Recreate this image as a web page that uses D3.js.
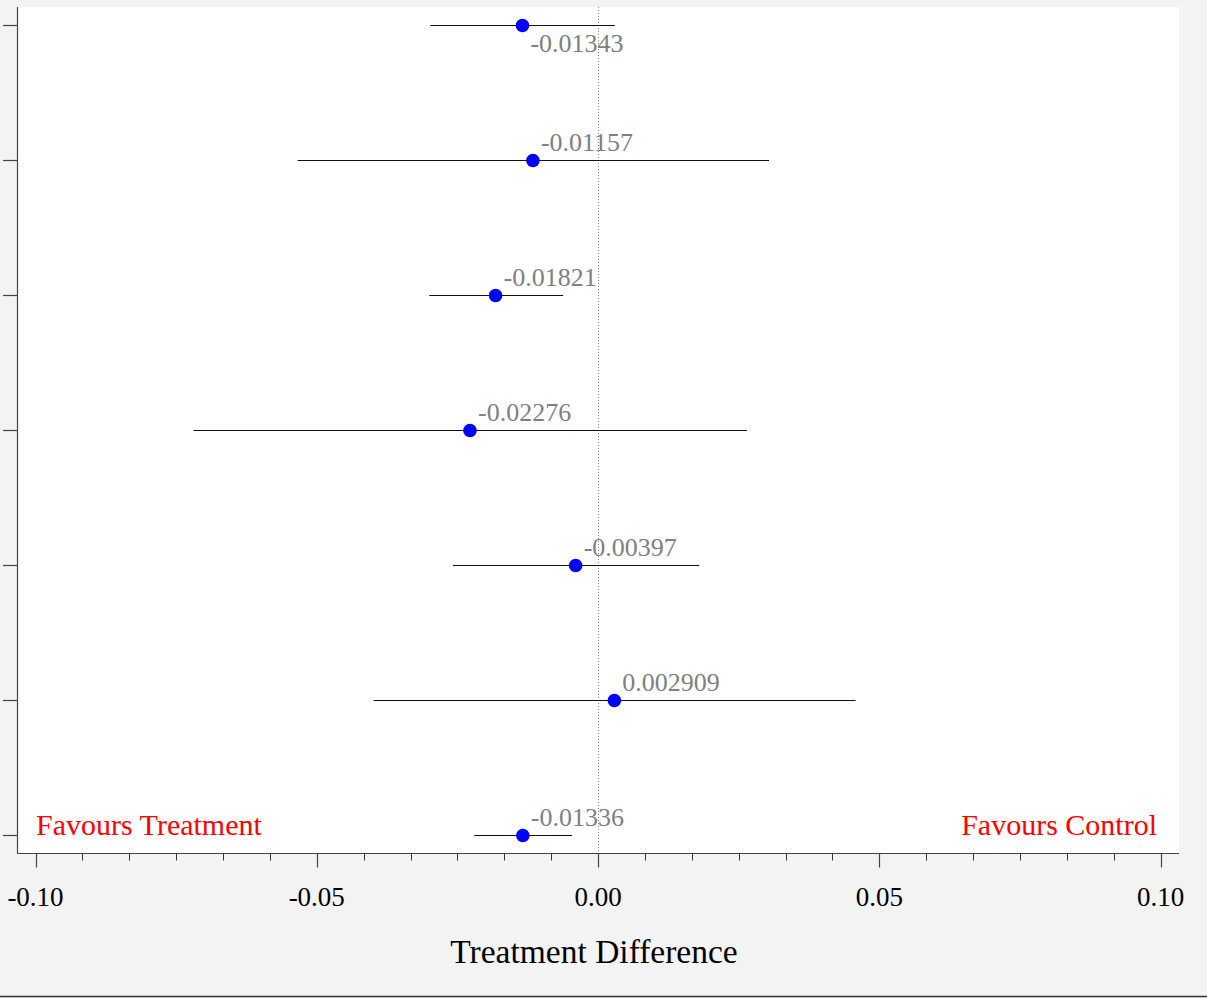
<!DOCTYPE html>
<html>
<head>
<meta charset="utf-8">
<script src="https://cdn.jsdelivr.net/npm/d3@7"></script>
<style>
  html, body { margin: 0; padding: 0; background: #f3f3f3; }
  svg { display: block; }
</style>
</head>
<body>
<script>
// ---- data ----
const rows = ["1", "2", "3", "4", "5", "6", "7"];
const estimates = [-0.01343, -0.01157, -0.01821, -0.02276, -0.00397, 0.002909, -0.01336];
const lowerCI = [-0.0298, -0.0534, -0.0300, -0.0719, -0.0258, -0.0399, -0.0220];
const upperCI = [0.0030, 0.0304, -0.0062, 0.0265, 0.0180, 0.0458, -0.0046];
const xTicks = [-0.10, -0.05, 0.00, 0.05, 0.10];
const xTickLabels = ["-0.10", "-0.05", "0.00", "0.05", "0.10"];
const xTitle = "Treatment Difference";
const leftNote = "Favours Treatment";
const rightNote = "Favours Control";

const data = rows.map((r, i) => ({ row: r, est: estimates[i], lo: lowerCI[i], hi: upperCI[i] }));

// ---- layout ----
const W = 1207, H = 998;
const plot = { left: 17, right: 1179, top: 7, bottom: 853 };
const serif = "'Liberation Serif', 'Times New Roman', serif";

const svg = d3.select("body").append("svg").attr("width", W).attr("height", H);

svg.append("rect").attr("width", W).attr("height", H).attr("fill", "#f3f3f3");
svg.append("rect")
  .attr("x", plot.left).attr("y", plot.top)
  .attr("width", plot.right - plot.left).attr("height", plot.bottom - plot.top)
  .attr("fill", "#ffffff");

// frame bottom line
svg.append("line").attr("x1", 0).attr("x2", W).attr("y1", 996.5).attr("y2", 996.5)
  .attr("stroke", "#333").attr("stroke-width", 1.5);

const x = d3.scaleLinear().domain([-0.10, 0.10]).range([35.5, 1160.5]);
const y = d3.scalePoint().domain(rows).range([plot.top, plot.bottom]).padding(0.1333);
const crisp = v => Math.round(v) + 0.5;

// reference line at 0
svg.append("line")
  .attr("x1", crisp(x(0))).attr("x2", crisp(x(0))).attr("y1", plot.top).attr("y2", plot.bottom)
  .attr("stroke", "#888").attr("stroke-width", 1).attr("stroke-dasharray", "1,2");

// x axis
const minorTicks = d3.range(0, 25).map(i => -0.10 + i * (0.05 / 6));
const xg = svg.append("g").attr("transform", `translate(0,${plot.bottom + 0.5})`);
xg.append("line").attr("x1", plot.left).attr("x2", plot.right).attr("y1", 0).attr("y2", 0)
  .attr("stroke", "#444").attr("stroke-width", 1);
xg.selectAll("line.minor").data(minorTicks).join("line").attr("class", "minor")
  .attr("x1", d => crisp(x(d))).attr("x2", d => crisp(x(d))).attr("y1", 0).attr("y2", 7)
  .attr("stroke", "#333").attr("stroke-width", 1);
xg.selectAll("line.major").data(xTicks).join("line").attr("class", "major")
  .attr("x1", d => crisp(x(d))).attr("x2", d => crisp(x(d))).attr("y1", 0).attr("y2", 14)
  .attr("stroke", "#444").attr("stroke-width", 1.2);
xg.selectAll("text.tl").data(xTicks).join("text").attr("class", "tl")
  .attr("x", d => x(d)).attr("y", 52)
  .attr("text-anchor", "middle")
  .attr("font-family", serif).attr("font-size", 27).attr("fill", "#000")
  .text((d, i) => xTickLabels[i]);

// y axis
const yg = svg.append("g");
yg.append("line").attr("x1", plot.left + 0.5).attr("x2", plot.left + 0.5).attr("y1", plot.top).attr("y2", plot.bottom)
  .attr("stroke", "#444").attr("stroke-width", 1.2);
yg.selectAll("line.yt").data(rows).join("line").attr("class", "yt")
  .attr("x1", plot.left - 14).attr("x2", plot.left).attr("y1", d => crisp(y(d))).attr("y2", d => crisp(y(d)))
  .attr("stroke", "#444").attr("stroke-width", 1.2);

// axis title
svg.append("text")
  .attr("x", (plot.left + plot.right) / 2 - 4).attr("y", 963)
  .attr("text-anchor", "middle")
  .attr("font-family", serif).attr("font-size", 33.5).attr("fill", "#000")
  .text(xTitle);

// CI lines
svg.selectAll("line.ci").data(data).join("line").attr("class", "ci")
  .attr("x1", d => x(d.lo)).attr("x2", d => x(d.hi))
  .attr("y1", d => crisp(y(d.row))).attr("y2", d => crisp(y(d.row)))
  .attr("stroke", "#111").attr("stroke-width", 1);

// points
svg.selectAll("circle.pt").data(data).join("circle").attr("class", "pt")
  .attr("cx", d => x(d.est)).attr("cy", d => crisp(y(d.row))).attr("r", 6.8)
  .attr("fill", "#0000ff");

// value labels
const fmt = v => d3.format(".4~g")(v).replace("\u2212", "-");
const labelSize = 26;
svg.selectAll("text.vl").data(data).join("text").attr("class", "vl")
  .attr("x", d => x(d.est) + 8)
  .attr("y", d => {
    const above = y(d.row) - 9;
    return (above - labelSize < plot.top) ? y(d.row) + 27 : above;
  })
  .attr("font-family", serif).attr("font-size", labelSize).attr("fill", "#808080")
  .text(d => fmt(d.est));

// favours notes
svg.append("text").attr("x", 36).attr("y", 835)
  .attr("font-family", serif).attr("font-size", 30).attr("fill", "#ff0000")
  .text(leftNote);
svg.append("text").attr("x", 1157).attr("y", 835).attr("text-anchor", "end")
  .attr("font-family", serif).attr("font-size", 30).attr("fill", "#ff0000")
  .text(rightNote);
</script>
</body>
</html>
